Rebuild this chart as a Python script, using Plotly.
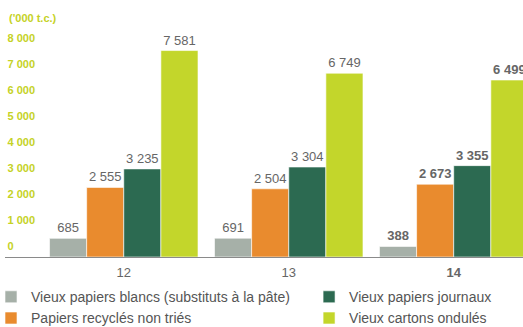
import plotly.graph_objects as go

# Years shown on the category axis
years = ["12", "13", "14"]
year_labels = ["12", "13", "<b>14</b>"]

# Volumes in '000 t.c. per grade of recovered paper
blancs = [685, 691, 388]
non_tries = [2555, 2504, 2673]
journaux = [3235, 3304, 3355]
cartons = [7581, 6749, 6499]

series_names = [
    "Vieux papiers blancs (substituts à la pâte)",
    "Papiers recyclés non triés",
    "Vieux papiers journaux",
    "Vieux cartons ondulés",
]
series_values = [blancs, non_tries, journaux, cartons]
series_colors = ["#a6b0a8", "#e98b2e", "#2c6a51", "#c3d62b"]
series_legends = ["legend", "legend", "legend2", "legend2"]

# Scale labels printed down the left side
y_ticks = [0, 1000, 2000, 3000, 4000, 5000, 6000, 7000, 8000]

FONT = "Liberation Sans, Arial, sans-serif"
SCALE_GREEN = "#c5d226"
LABEL_GREY = "#666666"


def fmt(v):
    return f"{v:,}".replace(",", " ")


xpos = list(range(len(years)))

fig = go.Figure()
for name, vals, color, leg in zip(series_names, series_values, series_colors, series_legends):
    labels = []
    for yr, v in zip(years, vals):
        s = fmt(v)
        labels.append(f"<b>{s}</b>" if yr == "14" else s)
    fig.add_trace(go.Bar(
        x=xpos, y=vals, name=name, legend=leg,
        marker=dict(color=color, line=dict(color="white", width=0.6)),
        text=labels, textposition="outside", cliponaxis=False,
        textfont=dict(family=FONT, size=13, color=LABEL_GREY),
        hoverinfo="skip",
    ))

# Scale labels drawn on their own overlaid axis
fig.add_trace(go.Scatter(
    x=[-0.705] * len(y_ticks), y=y_ticks, yaxis="y2",
    mode="text", text=[f"<b>{fmt(t)}</b>" for t in y_ticks],
    textposition="middle right", cliponaxis=False,
    textfont=dict(family=FONT, size=11, color=SCALE_GREEN),
    showlegend=False, hoverinfo="skip",
))

legend_common = dict(
    orientation="v", yanchor="top", y=-0.098, xanchor="left",
    font=dict(family=FONT, size=14, color="#555555"),
    bgcolor="rgba(0,0,0,0)", tracegroupgap=0, traceorder="normal",
)

fig.update_layout(
    width=523, height=327,
    margin=dict(l=5, r=0, t=10, b=70, autoexpand=False),
    paper_bgcolor="white", plot_bgcolor="white",
    barmode="group", bargap=0.1, bargroupgap=0,
    font=dict(family=FONT, color="#555555"),
    xaxis=dict(
        range=[-0.72, 2.42],
        tickvals=xpos, ticktext=year_labels,
        tickfont=dict(family=FONT, size=13, color=LABEL_GREY),
        ticklabelstandoff=3,
        showline=True, linecolor="#8a8a8a", linewidth=1,
        ticks="", showgrid=False, zeroline=False, automargin=False,
    ),
    yaxis=dict(range=[0, 9070], showticklabels=False, showgrid=False,
               zeroline=False, showline=False, automargin=False),
    yaxis2=dict(overlaying="y", side="left", range=[-373, 9115], automargin=False,
                showticklabels=False, showgrid=False, zeroline=False, showline=False),
    legend=dict(x=-0.027, **legend_common),
    legend2=dict(x=0.587, **legend_common),
    annotations=[dict(
        text="<b>('000 t.c.)</b>", xref="paper", yref="paper",
        x=0.004, y=0.968, xanchor="left", yanchor="middle", showarrow=False,
        font=dict(family=FONT, size=11, color=SCALE_GREEN),
    )],
)

fig.write_html("out.html")
